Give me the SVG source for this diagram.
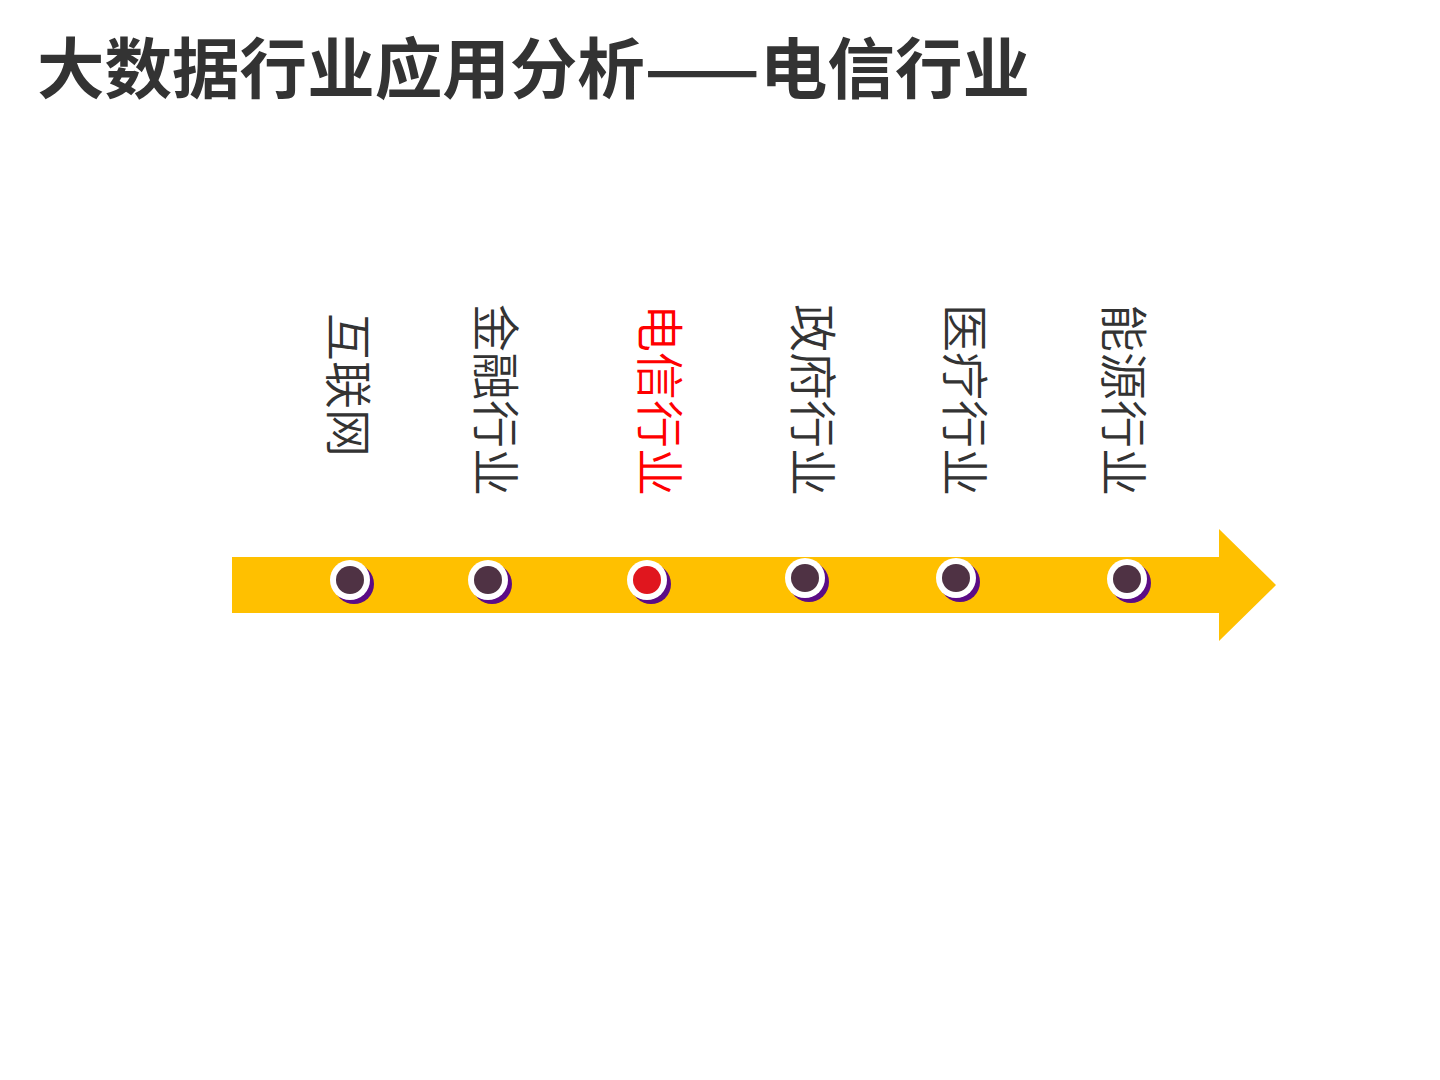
<svg xmlns="http://www.w3.org/2000/svg" width="1440" height="1080" viewBox="0 0 1440 1080">
  <defs>
    <style>
      .title { font-family: "Noto Sans CJK SC", "Liberation Sans", sans-serif; font-weight: 700; font-size: 66px; fill: #333333; }
      .label { font-family: "Noto Sans CJK SC", "Liberation Sans", sans-serif; font-weight: 350; font-size: 48px; fill: #333333; }
      .label.active { fill: #FF0000; }
      .ring { fill: #FFFFFF; }
      .shadow { fill: #5B0C86; }
      .dot { fill: #4F3244; }
      .dot.active { fill: #E0161E; }
    </style>
    <g id="marker-dot">
      <circle class="shadow" cx="4" cy="4" r="20"/>
      <circle class="ring" cx="0" cy="0" r="20"/>
    </g>
  </defs>
  <rect width="1440" height="1080" fill="#FFFFFF"/>

  <text class="title" x="37" y="93" textLength="993" lengthAdjust="spacingAndGlyphs">大数据行业应用分析——电信行业</text>

  <g id="connectors">
    <path id="timeline-arrow" d="M232,557 L1219,557 L1219,529 L1276,585 L1219,641 L1219,613 L232,613 Z" fill="#FFC000"/>
  </g>

  <g id="node-internet">
    <use href="#marker-dot" x="350" y="580"/>
    <circle class="dot" cx="350" cy="580" r="14"/>
    <text class="label" transform="translate(331,313) rotate(90)">互联网</text>
  </g>
  <g id="node-finance">
    <use href="#marker-dot" x="488" y="580"/>
    <circle class="dot" cx="488" cy="580" r="14"/>
    <text class="label" transform="translate(478,304) rotate(90)">金融行业</text>
  </g>
  <g id="node-telecom">
    <use href="#marker-dot" x="647" y="580"/>
    <circle class="dot active" cx="647" cy="580" r="14"/>
    <text class="label active" transform="translate(642,304) rotate(90)">电信行业</text>
  </g>
  <g id="node-government">
    <use href="#marker-dot" x="805" y="578"/>
    <circle class="dot" cx="805" cy="578" r="14"/>
    <text class="label" transform="translate(795,304) rotate(90)">政府行业</text>
  </g>
  <g id="node-medical">
    <use href="#marker-dot" x="956" y="578"/>
    <circle class="dot" cx="956" cy="578" r="14"/>
    <text class="label" transform="translate(947,304) rotate(90)">医疗行业</text>
  </g>
  <g id="node-energy">
    <use href="#marker-dot" x="1127" y="579"/>
    <circle class="dot" cx="1127" cy="579" r="14"/>
    <text class="label" transform="translate(1106,304) rotate(90)">能源行业</text>
  </g>
</svg>
